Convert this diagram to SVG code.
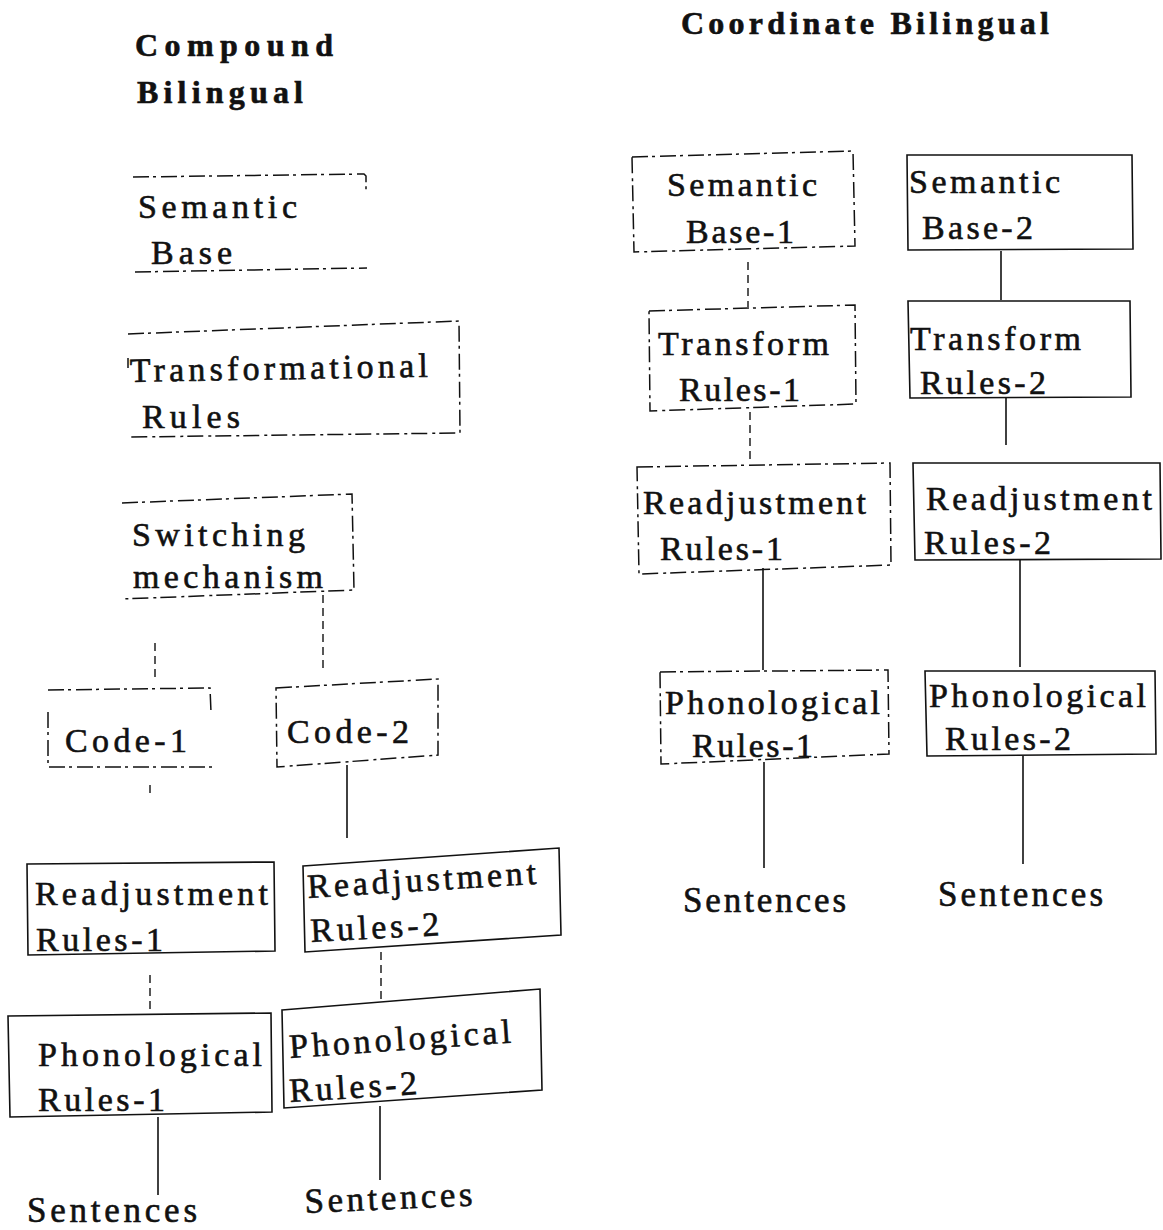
<svg xmlns="http://www.w3.org/2000/svg" width="1163" height="1230" viewBox="0 0 1163 1230">
<style>
.t{font-family:"Liberation Serif","Times New Roman",serif;font-size:34px;fill:#111;stroke:#111;stroke-width:0.6}
.h{font-family:"Liberation Serif","Times New Roman",serif;font-size:32px;font-weight:bold;fill:#111;stroke:#111;stroke-width:0.6}
.s{font-family:"Liberation Serif","Times New Roman",serif;font-size:35px;fill:#111;stroke:#111;stroke-width:0.6}
.b{fill:none;stroke:#111;stroke-width:1.6}
.d{fill:none;stroke:#111;stroke-width:1.5;stroke-dasharray:16 4 3 5}
.c{fill:none;stroke:#111;stroke-width:1.6}
.cd{fill:none;stroke:#111;stroke-width:1.4;stroke-dasharray:8 5}
</style>
<rect width="1163" height="1230" fill="#fff"/>
<g id="titles">
<text class="h" x="135" y="56" textLength="198" lengthAdjust="spacing">Compound</text>
<text class="h" x="137" y="103" textLength="166" lengthAdjust="spacing">Bilingual</text>
<text class="h" x="681" y="34" textLength="368" lengthAdjust="spacing">Coordinate Bilingual</text>
</g>
<g id="connectors">
<line class="cd" x1="323" y1="595" x2="323" y2="670"/>
<line class="cd" x1="155" y1="643" x2="155" y2="680"/>
<line class="cd" x1="150" y1="785" x2="150" y2="795"/>
<line class="c" x1="347" y1="765" x2="347" y2="838"/>
<line class="cd" x1="150" y1="975" x2="150" y2="1015"/>
<line class="cd" x1="381" y1="952" x2="381" y2="1000"/>
<line class="c" x1="158" y1="1117" x2="158" y2="1195"/>
<line class="c" x1="380" y1="1106" x2="380" y2="1180"/>
<line class="cd" x1="748" y1="262" x2="748" y2="307"/>
<line class="c" x1="1001" y1="251" x2="1001" y2="300"/>
<line class="cd" x1="750" y1="412" x2="750" y2="460"/>
<line class="c" x1="1006" y1="398" x2="1006" y2="445"/>
<line class="c" x1="763" y1="568" x2="763" y2="670"/>
<line class="c" x1="1020" y1="560" x2="1020" y2="667"/>
<line class="c" x1="764" y1="762" x2="764" y2="868"/>
<line class="c" x1="1023" y1="756" x2="1023" y2="864"/>
</g>
<g id="semantic-base">
<path class="d" d="M133,177 L364,174 L366,176 L366,190 M135,272 L367,268"/>
<text class="t" x="138" y="218" textLength="159" lengthAdjust="spacing">Semantic</text>
<text class="t" x="151" y="264" textLength="81" lengthAdjust="spacing">Base</text>
</g>
<g id="transformational-rules">
<path class="d" d="M128,334 L459,321 L460,433 L130,437 M128,358 L128,368"/>
<text class="t" x="130" y="382" textLength="298" lengthAdjust="spacing" transform="rotate(-1 130 382)">Transformational</text>
<text class="t" x="142" y="428" textLength="98" lengthAdjust="spacing">Rules</text>
</g>
<g id="switching">
<path class="d" d="M122,503 L352,494 L354,590 L122,599"/>
<text class="t" x="132" y="546" textLength="173" lengthAdjust="spacing">Switching</text>
<text class="t" x="133" y="588" textLength="190" lengthAdjust="spacing">mechanism</text>
</g>
<g id="code-1">
<path class="d" d="M48,690 L210,688 L211,712 M48,712 L48,767 L212,767"/>
<text class="t" x="65" y="752" textLength="122" lengthAdjust="spacing">Code-1</text>
</g>
<g id="code-2">
<path class="d" d="M276,688 L438,679 L438,755 L277,767 Z"/>
<text class="t" x="287" y="743" textLength="122" lengthAdjust="spacing">Code-2</text>
</g>
<g id="readjustment-1">
<path class="b" d="M27,864 L274,862 L275,951 L28,955 Z"/>
<text class="t" x="35" y="905" textLength="233" lengthAdjust="spacing">Readjustment</text>
<text class="t" x="36" y="951" textLength="127" lengthAdjust="spacing">Rules-1</text>
</g>
<g id="readjustment-2">
<path class="b" d="M303,866 L559,848 L561,935 L305,952 Z"/>
<text class="t" x="308" y="898" textLength="229" lengthAdjust="spacing" transform="rotate(-3.5 308 898)">Readjustment</text>
<text class="t" x="311" y="942" textLength="129" lengthAdjust="spacing" transform="rotate(-3 311 942)">Rules-2</text>
</g>
<g id="phonological-1">
<path class="b" d="M8,1016 L271,1013 L272,1112 L10,1117 Z"/>
<text class="t" x="38" y="1066" textLength="224" lengthAdjust="spacing">Phonological</text>
<text class="t" x="38" y="1111" textLength="127" lengthAdjust="spacing">Rules-1</text>
</g>
<g id="phonological-2">
<path class="b" d="M282,1010 L540,989 L542,1090 L284,1108 Z"/>
<text class="t" x="290" y="1058" textLength="222" lengthAdjust="spacing" transform="rotate(-4 290 1058)">Phonological</text>
<text class="t" x="290" y="1102" textLength="128" lengthAdjust="spacing" transform="rotate(-3.5 290 1102)">Rules-2</text>
</g>
<g id="sentences-c1">
<text class="s" x="27" y="1222" textLength="170" lengthAdjust="spacing">Sentences</text>
</g>
<g id="sentences-c2">
<text class="s" x="305" y="1213" textLength="168" lengthAdjust="spacing" transform="rotate(-2.5 305 1213)">Sentences</text>
</g>
<g id="semantic-base-1">
<path class="d" d="M632,157 L853,151 L855,246 L634,252 Z"/>
<text class="t" x="667" y="196" textLength="150" lengthAdjust="spacing">Semantic</text>
<text class="t" x="686" y="243" textLength="108" lengthAdjust="spacing">Base-1</text>
</g>
<g id="semantic-base-2">
<path class="b" d="M907,155 L1132,155 L1133,249 L908,250 Z"/>
<text class="t" x="909" y="193" textLength="151" lengthAdjust="spacing">Semantic</text>
<text class="t" x="922" y="239" textLength="111" lengthAdjust="spacing">Base-2</text>
</g>
<g id="transform-1">
<path class="d" d="M649,311 L855,305 L856,404 L650,411 Z"/>
<text class="t" x="658" y="355" textLength="171" lengthAdjust="spacing">Transform</text>
<text class="t" x="679" y="401" textLength="121" lengthAdjust="spacing">Rules-1</text>
</g>
<g id="transform-2">
<path class="b" d="M908,301 L1130,301 L1131,397 L910,398 Z"/>
<text class="t" x="910" y="350" textLength="171" lengthAdjust="spacing">Transform</text>
<text class="t" x="920" y="394" textLength="126" lengthAdjust="spacing">Rules-2</text>
</g>
<g id="readjustment-c1">
<path class="d" d="M637,467 L890,463 L891,565 L639,574 Z"/>
<text class="t" x="643" y="514" textLength="223" lengthAdjust="spacing">Readjustment</text>
<text class="t" x="660" y="560" textLength="123" lengthAdjust="spacing">Rules-1</text>
</g>
<g id="readjustment-c2">
<path class="b" d="M913,463 L1160,463 L1161,559 L915,560 Z"/>
<text class="t" x="926" y="510" textLength="226" lengthAdjust="spacing">Readjustment</text>
<text class="t" x="924" y="554" textLength="127" lengthAdjust="spacing">Rules-2</text>
</g>
<g id="phonological-c1">
<path class="d" d="M660,672 L888,670 L889,754 L661,764 Z"/>
<text class="t" x="665" y="714" textLength="215" lengthAdjust="spacing">Phonological</text>
<text class="t" x="692" y="757" textLength="121" lengthAdjust="spacing">Rules-1</text>
</g>
<g id="phonological-c2">
<path class="b" d="M925,671 L1155,671 L1156,754 L927,756 Z"/>
<text class="t" x="929" y="707" textLength="217" lengthAdjust="spacing">Phonological</text>
<text class="t" x="945" y="750" textLength="126" lengthAdjust="spacing">Rules-2</text>
</g>
<g id="sentences-d1">
<text class="s" x="683" y="912" textLength="163" lengthAdjust="spacing">Sentences</text>
</g>
<g id="sentences-d2">
<text class="s" x="938" y="906" textLength="165" lengthAdjust="spacing">Sentences</text>
</g>
</svg>
